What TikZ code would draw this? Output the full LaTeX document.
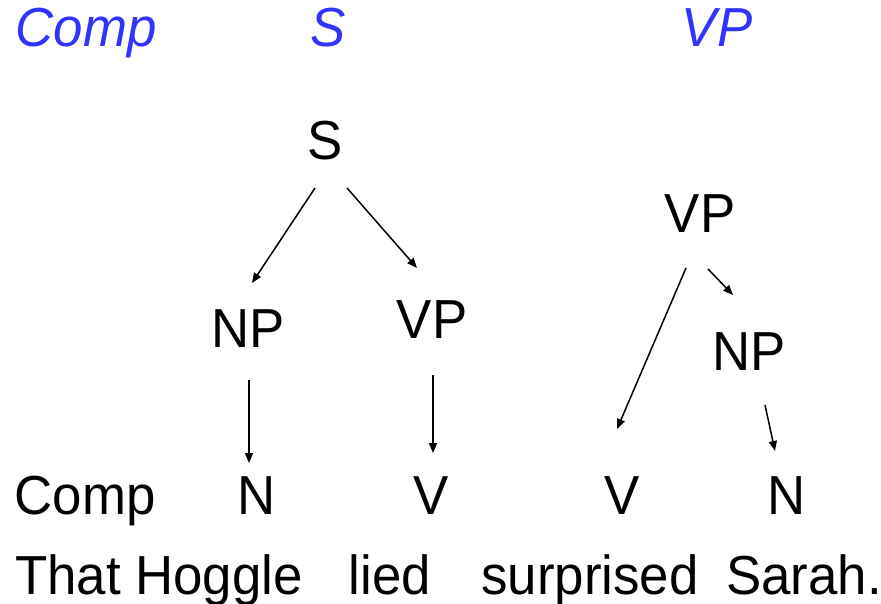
\documentclass[tikz,border=0pt]{standalone}
\usepackage{fontspec}
\setmainfont[FakeStretch=0.96]{Liberation Sans}
\usetikzlibrary{arrows.meta,calc}
\definecolor{hdrblue}{RGB}{51,51,255}
\begin{document}
\begin{tikzpicture}[x=1pt,y=-1pt,
  lbl/.style={inner sep=0pt,anchor=base,font=\fontsize{55}{60}\selectfont},
  hdr/.style={lbl,text=hdrblue,font=\fontsize{55}{60}\selectfont\itshape},
  arr/.style={line width=1.5pt,-{Triangle[length=10pt,width=8pt]}}]
\useasboundingbox (0,0) rectangle (881,604);
% header
\node[hdr] (hComp) at (86,47) {Comp};
\node[hdr] (hS) at (328,47) {S};
\node[hdr] (hVP) at (717,47) {VP};
% tree labels
\node[lbl] (S) at (325,160) {S};
\node[lbl] (NPl) at (248,347) {NP};
\node[lbl] (VPm) at (432,338) {VP};
\node[lbl] (VPr) at (700,233) {VP};
\node[lbl] (NPr) at (749,370) {NP};
% categories row
\node[lbl] (Comp) at (85,514) {Comp};
\node[lbl] (N1) at (257,514) {N};
\node[lbl] (V1) at (431,514) {V};
\node[lbl] (V2) at (622,514) {V};
\node[lbl] (N2) at (787,514) {N};
% words row
\node[lbl] (w1) at (159,594) {That Hoggle};
\node[lbl] (w2) at (390,594) {lied};
\node[lbl] (w3) at (590,594) {surprised};
\node[lbl] (w4) at (804,594) {Sarah.};
% connectors
\draw[arr] ($(S.base)+(-10,28)$) -- ($(NPl.base)+(4,-64)$);
\draw[arr] ($(S.base)+(22,28)$) -- ($(VPm.base)+(-15,-70)$);
\draw[arr] ($(NPl.base)+(1,33)$) -- ($(N1.base)+(-8,-51)$);
\draw[arr] ($(VPm.base)+(1,37)$) -- ($(V1.base)+(2,-61)$);
\draw[arr] ($(VPr.base)+(-14,35)$) -- ($(V2.base)+(-5,-85)$);
\draw[arr] ($(VPr.base)+(8,36)$) -- ($(NPr.base)+(-16,-75)$);
\draw[arr] ($(NPr.base)+(16,35)$) -- ($(N2.base)+(-12,-63)$);
\end{tikzpicture}
\end{document}
